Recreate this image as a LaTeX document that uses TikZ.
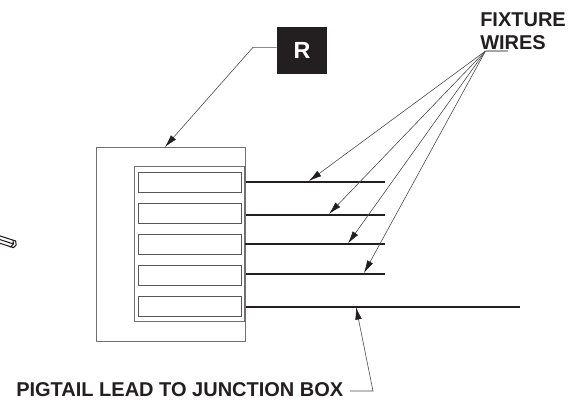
\documentclass[tikz,border=0pt]{standalone}
\usepackage{fontspec}
\setmainfont{Liberation Sans}
\usetikzlibrary{arrows.meta}
\definecolor{ink}{HTML}{231F20}
\definecolor{boxgray}{HTML}{707070}
\tikzset{x=0.75pt,y=-0.75pt,
 boxline/.style={draw=boxgray,line width=0.75pt},
 slotbox/.style={draw=ink!75,line width=0.75pt},
 wire/.style={draw=ink,line width=1.35pt},
 leader/.style={draw=ink!80,line width=0.45pt},
 lead/.style={leader,-{Latex[length=9.5pt,width=5pt,ink]}},
 lab/.style={font=\bfseries\fontsize{15pt}{17.6pt}\selectfont,text=ink,inner sep=0pt,align=left,anchor=west}}
\begin{document}
\begin{tikzpicture}
\useasboundingbox (0,0) rectangle (586,400);
\fill[white] (0,0) rectangle (586,400);
\draw[boxline] (96,147) rectangle (245.5,341);
\draw[boxline] (134.5,166.5) rectangle (244.5,321);
\foreach \n/\y in {1/172,2/203,3/234,4/265,5/296}{
 \draw[slotbox] (138.5,\y) rectangle (241.5,\y+20.5);
}
\coordinate (w1a) at (246,181.7); \coordinate (w1b) at (385,181.7);
\coordinate (w2a) at (246,214.7); \coordinate (w2b) at (385,214.7);
\coordinate (w3a) at (245,244); \coordinate (w3b) at (385,244);
\coordinate (w4a) at (246,273.7); \coordinate (w4b) at (385,273.7);
\coordinate (w5a) at (246,306.7); \coordinate (w5b) at (519.5,306.7);
\foreach \n in {1,...,5}{\draw[wire] (w\n a) -- (w\n b);}
\node[fill=ink,minimum width=37.5pt,minimum height=35.2pt,inner sep=0pt,text=white,font=\bfseries\fontsize{17.5pt}{19pt}\selectfont] (R) at (302,50.3) {R};
\node[lab] (fw) at (480,31) {FIXTURE\\WIRES};
\coordinate (hub) at (485.5,51);
\coordinate (t0) at (165,147);
\coordinate (bend) at (253,47.3);
\draw[lead] (R.west |- bend) -- (bend) -- (t0);
\draw[lead] (hub) -- (309,181);
\draw[lead] (hub) -- (329,214);
\draw[lead] (hub) -- (348,243.5);
\draw[lead] (hub) -- (364,273);
\draw[draw=ink!40,line width=0.9pt] (486,51) -- (508,51);
\node[lab] (pg) at (16,390) {PIGTAIL LEAD TO JUNCTION BOX};
\coordinate (pb) at (373,391);
\coordinate (pc) at (350,391);
\draw[lead] (pc) -- (pb) -- (356,306.9);
\begin{scope}[shift={(12,243.5)},rotate=-18,draw=ink,line width=0.8pt]
 \draw (-14,-3.5) -- (0,-3.5);
 \draw (-14,3.5) -- (0,3.5);
 \draw (-14,0) -- (1.2,0);
 \draw (0,-3.5) -- (2.7,-3.5) -- (4.4,0) -- (2.7,3.5) -- (0,3.5) -- (1.4,0) -- cycle;
\end{scope}
\end{tikzpicture}
\end{document}
